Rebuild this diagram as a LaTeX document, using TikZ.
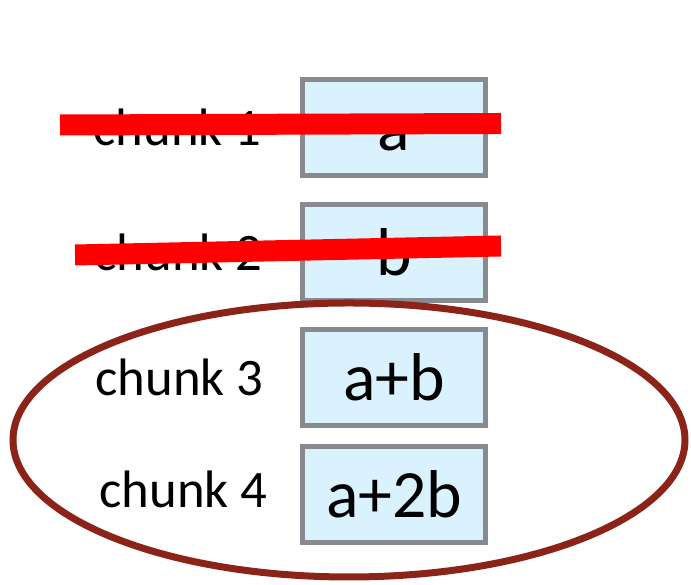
\documentclass[tikz,border=0pt]{standalone}
\usepackage{fontspec}
\setmainfont{Carlito}
\usepackage{tikz}
\usetikzlibrary{positioning}
\definecolor{chunkfill}{HTML}{DAF1FE}
\definecolor{chunkline}{HTML}{878A8E}
\definecolor{groupline}{HTML}{8B2318}

\begin{document}
\begin{tikzpicture}[
    chunk/.style={draw=chunkline,
                  fill=chunkfill,
                  line width=0.1cm,
                  minimum width=3.66cm,
                  minimum height=1.92cm,
                  text height=26pt,
                  text depth=0pt,
                  font=\fontsize{38.5}{44}\selectfont},
    tag/.style={inner sep=0pt, font=\fontsize{30}{36}\selectfont},
    strike/.style={draw=red, line width=0.42cm},
    group/.style={draw=groupline, line width=0.14cm}]

    \useasboundingbox (0,0) rectangle (13.82,11.7);

    \node[chunk] at (7.88,9.15) (c1) {a};
    \node[chunk, below=0.48 of c1] (c2) {b};
    \node[chunk, below=0.48 of c2] (c3) {a+b};
    \node[chunk, below=0.32 of c3] (c4) {a+2b};

    \node[tag, left=0.76 of c1] (t1) {chunk 1};
    \node[tag, left=0.74 of c2] (t2) {chunk 2};
    \node[tag, left=0.72 of c3] (t3) {chunk 3};
    \node[tag, left=0.64 of c4, yshift=0.1cm] (t4) {chunk 4};

    % crossed out chunks
    \draw[strike] ([xshift=-4.8cm, yshift=0.05cm]c1.west) -- ([xshift=0.26cm, yshift=0.08cm]c1.east);
    \draw[strike] ([xshift=-4.5cm, yshift=-0.05cm]c2.west) -- ([xshift=0.26cm, yshift=0.13cm]c2.east);

    % the chunks that are kept
    \draw[group] (6.98,2.9) ellipse [x radius=6.72, y radius=2.74];

\end{tikzpicture}
\end{document}
